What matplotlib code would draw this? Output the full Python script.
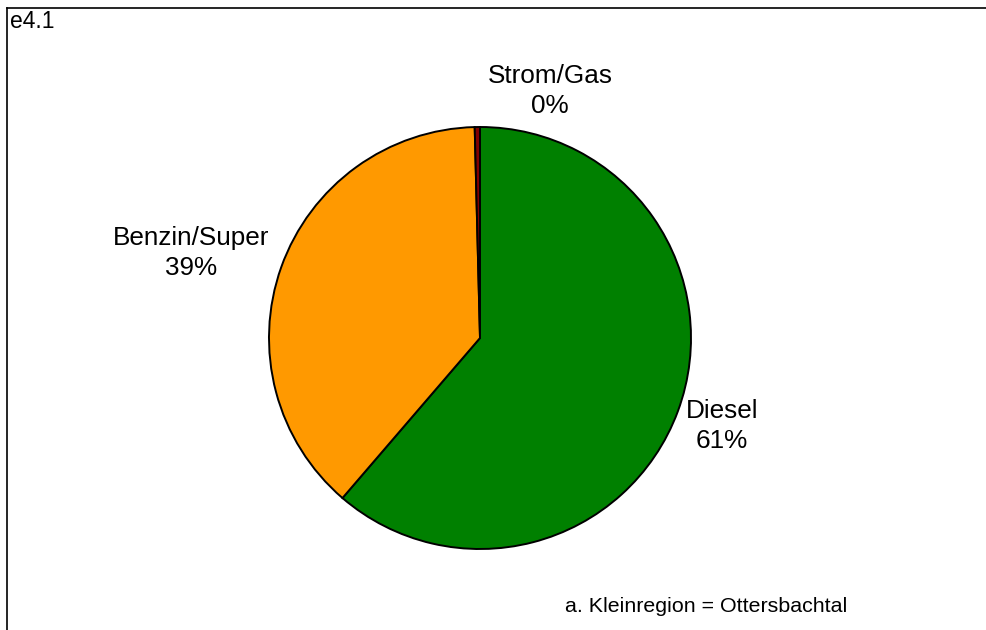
import matplotlib
matplotlib.use("Agg")
import matplotlib.pyplot as plt
from matplotlib.lines import Line2D

# Fuel shares (percent)
categories = ["Diesel", "Benzin/Super", "Strom/Gas"]
shares = [61.3, 38.3, 0.4]
pct_labels = ["61%", "39%", "0%"]
colors = ["#008000", "#FF9900", "#800000"]

plt.rcParams["font.family"] = ["Liberation Sans", "DejaVu Sans"]

W, H = 986, 630
fig = plt.figure(figsize=(W / 100, H / 100), dpi=100)
fig.patch.set_facecolor("white")

# pie centred at (480, 338) px with radius 211 px
cx, cy, r = 480, 338, 211
ax = fig.add_axes([(cx - r) / W, (H - cy - r) / H, 2 * r / W, 2 * r / H])
ax.pie(shares, colors=colors, startangle=90, counterclock=False,
       wedgeprops=dict(edgecolor="black", linewidth=1.4))
ax.set_xlim(-1, 1)
ax.set_ylim(-1, 1)
ax.set_aspect("equal")
ax.axis("off")

def to_data(px, py):
    return (px - cx) / r, (cy - py) / r

label_pos = {"Strom/Gas": (550, 91), "Benzin/Super": (191, 253), "Diesel": (722, 426)}
for cat, pct in zip(categories, pct_labels):
    x, y = to_data(*label_pos[cat])
    ax.text(x, y, f"{cat}\n{pct}", ha="center", va="center", fontsize=18.8,
            linespacing=1.32, clip_on=False)

# chart id and footnote
fig.text(10 / W, 1 - 22 / H, "e4.1", fontsize=16.5, ha="left", va="center")
fig.text(565 / W, 1 - 606 / H, "a. Kleinregion = Ottersbachtal", fontsize=15.4,
         ha="left", va="center")

# open frame: top and left edges only
fig.add_artist(Line2D([6.5 / W, 6.5 / W], [0, 1 - 7.5 / H], transform=fig.transFigure,
                      color="black", linewidth=1.2))
fig.add_artist(Line2D([6.5 / W, 1], [1 - 7.5 / H, 1 - 7.5 / H], transform=fig.transFigure,
                      color="black", linewidth=1.2))

fig.savefig("out.png", dpi=100)
